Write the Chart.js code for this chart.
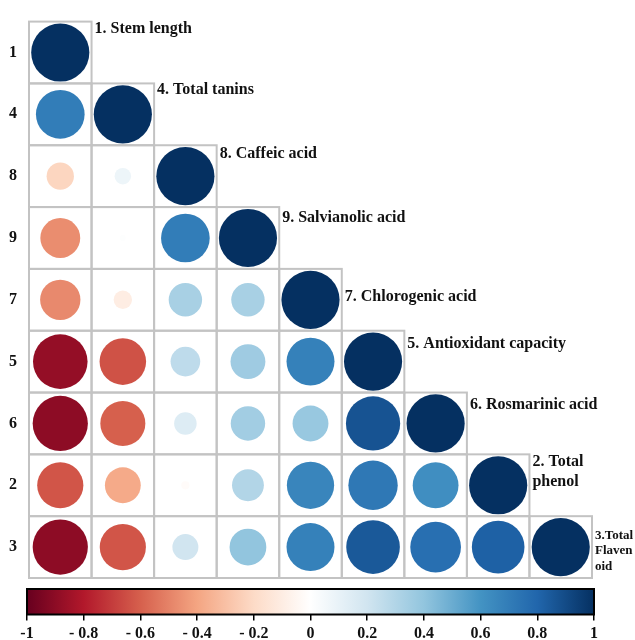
<!DOCTYPE html>
<html>
<head>
<meta charset="utf-8">
<script src="https://cdn.jsdelivr.net/npm/chart.js@4.4.0/dist/chart.umd.min.js"></script>
<style>
  html, body { margin: 0; padding: 0; background: #fff; }
  #wrap { position: relative; width: 635px; height: 640px; }
  #main { position: absolute; left: 0; top: 0; }
  #cbar { position: absolute; left: 0; top: 580px; }
</style>
</head>
<body>
<div id="wrap">
  <canvas id="main" width="635" height="640"></canvas>
  <canvas id="cbar" width="635" height="60"></canvas>
</div>
<script>
// ---------- data ----------
const rowLabels = ['1', '4', '8', '9', '7', '5', '6', '2', '3'];
const varNames = [
  ['1. Stem length'],
  ['4. Total tanins'],
  ['8. Caffeic acid'],
  ['9. Salvianolic acid'],
  ['7. Chlorogenic acid'],
  ['5. Antioxidant capacity'],
  ['6. Rosmarinic acid'],
  ['2. Total', 'phenol'],
  ['3.Total', 'Flaven', 'oid']
];
// lower-triangular correlation rows (row order = rowLabels)
const row1 = [1];
const row4 = [0.70, 1];
const row8 = [-0.22, 0.08, 1];
const row9 = [-0.47, 0.01, 0.70, 1];
const row7 = [-0.48, -0.10, 0.33, 0.33, 1];
const row5 = [-0.88, -0.64, 0.26, 0.36, 0.68, 1];
const row6 = [-0.90, -0.60, 0.15, 0.35, 0.38, 0.87, 1];
const row2 = [-0.63, -0.38, -0.02, 0.30, 0.66, 0.72, 0.62, 1];
const row3 = [-0.90, -0.63, 0.20, 0.40, 0.68, 0.85, 0.76, 0.82, 1];
const corrRows = [row1, row4, row8, row9, row7, row5, row6, row2, row3];
const colorbarTicks = [-1, -0.8, -0.6, -0.4, -0.2, 0, 0.2, 0.4, 0.6, 0.8, 1];

// ---------- styles ----------
const palette = ['#67001F', '#B2182B', '#D6604D', '#F4A582', '#FDDBC7', '#FFFFFF',
                 '#D1E5F0', '#92C5DE', '#4393C3', '#2166AC', '#053061'];
const serif = '"Liberation Serif", "DejaVu Serif", serif';
const labelStyle = [
  {dy: 7, size: 16}, {dy: 6, size: 16}, {dy: 9, size: 16}, {dy: 11, size: 16},
  {dy: 28, size: 16}, {dy: 13, size: 16}, {dy: 12, size: 16}, {dy: 8, size: 16, lh: 20},
  {dy: 19, size: 13, lh: 15.5}
];

function hexToRgb(h) {
  return [parseInt(h.slice(1, 3), 16), parseInt(h.slice(3, 5), 16), parseInt(h.slice(5, 7), 16)];
}
function corrColor(v) {
  const t = (Math.max(-1, Math.min(1, v)) + 1) / 2 * (palette.length - 1);
  const i = Math.min(palette.length - 2, Math.floor(t));
  const f = t - i;
  const a = hexToRgb(palette[i]), b = hexToRgb(palette[i + 1]);
  const c = a.map((x, k) => Math.round(x + (b[k] - x) * f));
  return `rgb(${c[0]},${c[1]},${c[2]})`;
}

const points = [];
corrRows.forEach((row, i) => {
  row.forEach((v, j) => points.push({x: j + 1, y: i + 1, v: v}));
});

const n = rowLabels.length;

function cellRadius(c) {
  const ch = c.chart;
  if (!c.raw || !ch.chartArea) return 0;
  const cell = (ch.chartArea.right - ch.chartArea.left) / n;
  return Math.sqrt(Math.abs(c.raw.v)) * cell * 0.465;
}
function cellColor(c) {
  return corrColor(c.raw ? c.raw.v : 0);
}

const gridPlugin = {
  id: 'cellGrid',
  beforeDatasetsDraw(chart) {
    const {ctx, scales: {x, y}} = chart;
    ctx.save();
    ctx.strokeStyle = '#C3C3C3';
    ctx.lineWidth = 2;
    corrRows.forEach((row, i) => {
      row.forEach((v, j) => {
        const x0 = x.getPixelForValue(j + 0.5), x1 = x.getPixelForValue(j + 1.5);
        const y0 = y.getPixelForValue(i + 0.5), y1 = y.getPixelForValue(i + 1.5);
        ctx.strokeRect(x0, y0, x1 - x0, y1 - y0);
      });
    });
    ctx.restore();
  },
  afterDatasetsDraw(chart) {
    const {ctx, scales: {x, y}} = chart;
    ctx.save();
    ctx.fillStyle = '#111';
    ctx.textAlign = 'left';
    ctx.textBaseline = 'middle';
    varNames.forEach((lines, i) => {
      const st = labelStyle[i];
      ctx.font = `bold ${st.size}px ${serif}`;
      const tx = x.getPixelForValue(i + 1.5) + 3;
      const ty = y.getPixelForValue(i + 0.5) + st.dy;
      lines.forEach((ln, k) => ctx.fillText(ln, tx, ty + k * (st.lh || 16)));
    });
    ctx.restore();
  }
};

new Chart(document.getElementById('main'), {
  type: 'scatter',
  data: {
    datasets: [{
      data: points,
      showLine: false,
      pointRadius: cellRadius,
      pointHoverRadius: cellRadius,
      pointBackgroundColor: cellColor,
      pointBorderColor: cellColor,
      pointBorderWidth: 0
    }]
  },
  plugins: [gridPlugin],
  options: {
    responsive: false,
    animation: false,
    events: [],
    layout: {padding: {top: 16, right: 43, bottom: 62, left: 0}},
    plugins: {legend: {display: false}, tooltip: {enabled: false}},
    scales: {
      x: {type: 'linear', min: 0.5, max: n + 0.5, display: false},
      y: {
        type: 'linear', min: 0.5, max: n + 0.5, reverse: true,
        grid: {display: false, drawTicks: false}, border: {display: false},
        afterBuildTicks: (s) => { s.ticks = rowLabels.map((_, i) => ({value: i + 1})); },
        afterFit: (s) => { s.width = 29; },
        ticks: {
          padding: 12,
          color: '#111',
          font: {family: serif, size: 16, weight: 'bold'},
          callback: (v) => rowLabels[Math.round(v) - 1]
        }
      }
    }
  }
});

const cbarPlugin = {
  id: 'cbarFill',
  beforeDatasetsDraw(chart) {
    const {ctx, chartArea: a, scales: {x}} = chart;
    const x0 = x.getPixelForValue(-1), x1 = x.getPixelForValue(1);
    const g = ctx.createLinearGradient(x0, 0, x1, 0);
    palette.forEach((c, i) => g.addColorStop(i / (palette.length - 1), c));
    ctx.save();
    ctx.fillStyle = g;
    ctx.fillRect(x0, a.top, x1 - x0, a.bottom - a.top);
    ctx.strokeStyle = '#000';
    ctx.lineWidth = 2;
    ctx.strokeRect(x0, a.top, x1 - x0, a.bottom - a.top);
    ctx.restore();
  }
};

new Chart(document.getElementById('cbar'), {
  type: 'scatter',
  data: {datasets: [{data: []}]},
  plugins: [cbarPlugin],
  options: {
    responsive: false,
    animation: false,
    events: [],
    layout: {padding: {top: 9, right: 41, bottom: 0, left: 27}},
    plugins: {legend: {display: false}, tooltip: {enabled: false}},
    scales: {
      y: {display: false, min: 0, max: 1},
      x: {
        type: 'linear', min: -1, max: 1,
        afterBuildTicks: (s) => { s.ticks = colorbarTicks.map(v => ({value: v})); },
        grid: {display: true, drawOnChartArea: false, drawTicks: true, tickLength: 6, color: '#000', lineWidth: 1.5},
        border: {display: false},
        ticks: {
          padding: 4,
          maxRotation: 0,
          autoSkip: false,
          color: '#111',
          font: {family: serif, size: 16, weight: 'bold'},
          callback: (v) => {
            const r = Math.round(v * 10) / 10;
            if (r === -1) return '-1';
            if (r < 0) return '- ' + Math.abs(r).toFixed(1);
            if (r === 0 || r === 1) return String(r);
            return r.toFixed(1);
          }
        }
      }
    }
  }
});
</script>
</body>
</html>
